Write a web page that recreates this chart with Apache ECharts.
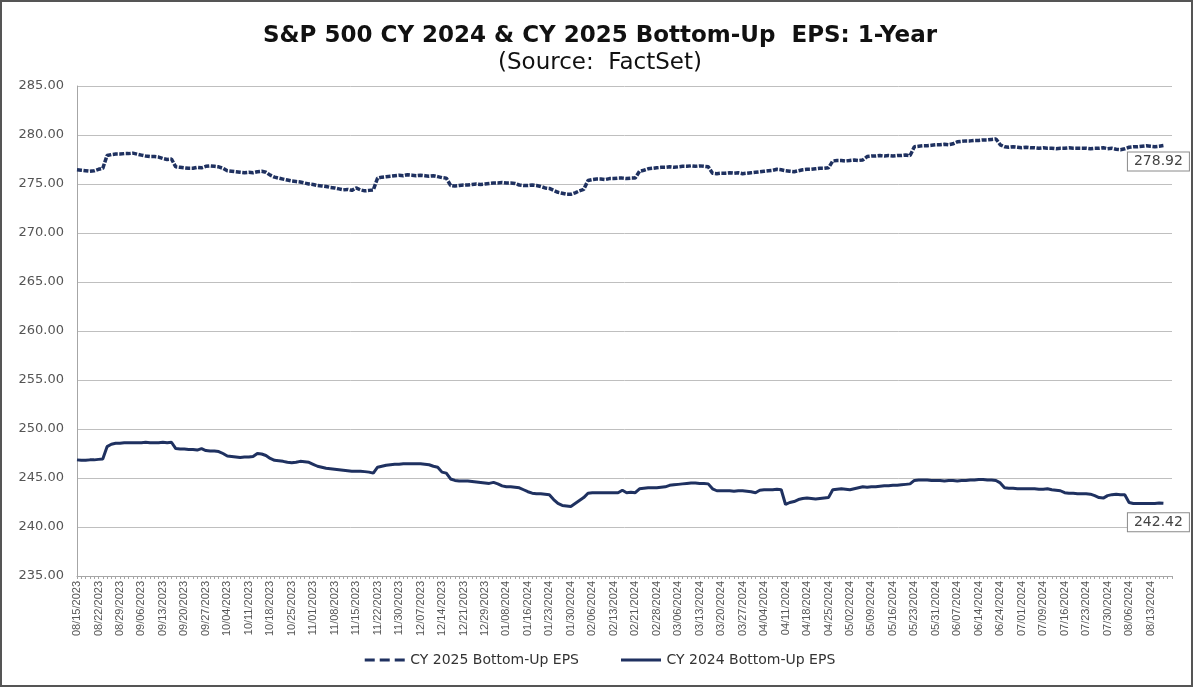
<!DOCTYPE html>
<html><head><meta charset="utf-8">
<script src="https://cdn.jsdelivr.net/npm/echarts@6/dist/echarts.min.js"></script>
<style>html,body{margin:0;padding:0;background:#fff}#c{width:1200px;height:688px}</style>
</head><body><div id="c"></div>
<script>
// Trading-day categories: start date, count and market holidays skipped
const startDate = [2023, 8, 15];
const categoryCount = 256;
const holidays = ['09/04/2023','11/23/2023','12/25/2023','01/01/2024','01/15/2024','02/19/2024','03/29/2024','05/27/2024','06/19/2024','07/04/2024'];
const labelEvery = 5;

const titleText = 'S&P 500 CY 2024 & CY 2025 Bottom-Up  EPS: 1-Year';
const subtitleText = '(Source:  FactSet)';
const seriesNames = ['CY 2025 Bottom-Up EPS', 'CY 2024 Bottom-Up EPS'];
const yMin = 235, yMax = 285, yStep = 5;

// CY 2025 bottom-up EPS, one value per trading day (one row per week)
const cy2025 = [
 276.45,276.4,276.35,276.3,276.35,
 276.5,276.6,277.9,278.0,278.05,
 278.05,278.1,278.1,278.15,278.05,
 277.95,277.85,277.8,277.8,277.75,
 277.6,277.5,277.55,276.75,276.7,
 276.65,276.6,276.6,276.7,276.65,
 276.8,276.85,276.8,276.75,276.6,
 276.35,276.3,276.25,276.2,276.15,
 276.2,276.15,276.25,276.3,276.2,
 275.9,275.7,275.6,275.5,275.4,
 275.3,275.25,275.2,275.1,275.0,
 274.95,274.85,274.8,274.75,274.65,
 274.6,274.5,274.4,274.45,274.35,
 274.6,274.4,274.3,274.35,274.4,
 275.6,275.7,275.75,275.8,275.85,
 275.9,275.85,275.95,275.9,275.85,
 275.9,275.85,275.8,275.85,275.75,
 275.65,275.6,274.85,274.8,274.85,
 274.9,274.9,274.95,275.0,274.95,
 275.0,275.05,275.1,275.1,275.15,
 275.1,275.1,275.05,274.9,274.85,
 274.85,274.9,274.85,274.75,274.6,
 274.55,274.35,274.15,274.05,273.95,
 273.95,274.1,274.3,274.45,275.35,
 275.45,275.5,275.5,275.45,275.55,
 275.55,275.6,275.6,275.55,275.6,
 275.6,276.3,276.4,276.55,276.6,
 276.65,276.7,276.7,276.75,276.7,
 276.75,276.8,276.8,276.85,276.8,
 276.85,276.8,276.75,276.1,276.05,
 276.1,276.1,276.15,276.1,276.15,
 276.05,276.1,276.15,276.2,276.25,
 276.3,276.35,276.4,276.5,276.45,
 276.35,276.3,276.25,276.35,276.45,
 276.5,276.5,276.55,276.6,276.6,
 276.65,277.35,277.4,277.4,277.35,
 277.4,277.45,277.4,277.45,277.8,
 277.85,277.85,277.9,277.85,277.9,
 277.85,277.9,277.9,277.95,277.9,
 278.8,278.85,278.9,278.9,278.95,
 279.0,279.0,279.05,279.0,279.1,
 279.3,279.35,279.4,279.4,279.45,
 279.45,279.5,279.5,279.55,279.6,
 279.0,278.8,278.75,278.8,278.75,
 278.7,278.75,278.7,278.7,278.65,
 278.7,278.65,278.65,278.6,278.65,
 278.65,278.7,278.65,278.65,278.65,
 278.65,278.6,278.65,278.65,278.7,
 278.6,278.65,278.55,278.5,278.6,
 278.75,278.8,278.8,278.85,278.9,
 278.85,278.8,278.85,278.92
];

// CY 2024 bottom-up EPS, one value per trading day (one row per week)
const cy2024 = [
 246.85,246.8,246.8,246.85,246.85,
 246.9,246.95,248.2,248.45,248.55,
 248.55,248.6,248.6,248.6,248.6,
 248.6,248.65,248.6,248.6,248.6,
 248.65,248.6,248.65,248.0,247.95,
 247.95,247.9,247.9,247.85,248.0,
 247.8,247.75,247.75,247.7,247.5,
 247.25,247.2,247.15,247.1,247.15,
 247.15,247.2,247.5,247.45,247.3,
 247.0,246.8,246.75,246.7,246.6,
 246.55,246.6,246.7,246.65,246.6,
 246.4,246.2,246.1,246.0,245.95,
 245.9,245.85,245.8,245.75,245.7,
 245.7,245.7,245.65,245.6,245.5,
 246.1,246.2,246.3,246.35,246.4,
 246.4,246.45,246.45,246.45,246.45,
 246.45,246.4,246.35,246.2,246.1,
 245.6,245.5,244.9,244.75,244.7,
 244.7,244.7,244.65,244.6,244.55,
 244.5,244.45,244.55,244.4,244.2,
 244.1,244.1,244.05,244.0,243.8,
 243.6,243.45,243.4,243.4,243.35,
 243.3,242.8,242.4,242.2,242.15,
 242.1,242.4,242.7,243.0,243.45,
 243.5,243.5,243.5,243.5,243.5,
 243.5,243.5,243.75,243.5,243.55,
 243.5,243.9,243.95,244.0,244.0,
 244.0,244.05,244.1,244.25,244.3,
 244.35,244.4,244.45,244.5,244.5,
 244.45,244.45,244.4,243.9,243.7,
 243.7,243.7,243.7,243.65,243.7,
 243.7,243.65,243.6,243.5,243.75,
 243.8,243.8,243.8,243.85,243.8,
 242.3,242.5,242.6,242.8,242.9,
 242.95,242.9,242.85,242.9,242.95,
 243.0,243.8,243.85,243.9,243.85,
 243.8,243.9,244.0,244.1,244.05,
 244.1,244.1,244.15,244.2,244.2,
 244.25,244.25,244.3,244.35,244.4,
 244.75,244.8,244.8,244.8,244.75,
 244.75,244.75,244.7,244.75,244.75,
 244.7,244.75,244.75,244.8,244.8,
 244.85,244.85,244.8,244.8,244.75,
 244.5,244.0,243.95,243.95,243.9,
 243.9,243.9,243.9,243.9,243.85,
 243.85,243.9,243.8,243.75,243.7,
 243.5,243.45,243.45,243.4,243.4,
 243.4,243.35,243.2,243.0,242.95,
 243.2,243.3,243.35,243.3,243.3,
 242.5,242.4,242.4,242.4,242.4,
 242.4,242.4,242.45,242.42
];

function pad(n){return (n<10?'0':'')+n;}
function buildCategories(){
  const out=[]; const d=new Date(startDate[0], startDate[1]-1, startDate[2]);
  while(out.length<categoryCount){
    const wd=d.getDay();
    const s=pad(d.getMonth()+1)+'/'+pad(d.getDate())+'/'+d.getFullYear();
    if(wd!==0 && wd!==6 && holidays.indexOf(s)<0) out.push(s);
    d.setDate(d.getDate()+1);
  }
  return out;
}
const categories = buildCategories();
const lastDataIndex = Math.max(cy2025.length, cy2024.length) - 1;

const lineColor = '#1f3160';
const wideFont = 'DejaVu Sans, Verdana, sans-serif';
function endLabel(dy){
  return {
    show:true, align:'center', verticalAlign:'top', distance:0, offset:[-5, dy],
    color:'#444', fontSize:14, fontFamily:wideFont, lineHeight:16,
    backgroundColor:'#fff', borderColor:'#8a8a8a', borderWidth:1, padding:[1,6,1,6],
    formatter:(p)=>Number(p.value).toFixed(2)
  };
}

const chart = echarts.init(document.getElementById('c'), null, {renderer:'canvas'});
chart.setOption({
  animation:false,
  backgroundColor:'#fff',
  textStyle:{fontFamily:'Liberation Sans, Arial, sans-serif'},
  title:[
    {text:titleText, left:'center', top:20, textStyle:{fontSize:23, fontWeight:'bold', color:'#111', fontFamily:wideFont}},
    {text:subtitleText, left:'center', top:47, textStyle:{fontSize:23, fontWeight:'normal', color:'#111', fontFamily:wideFont}}
  ],
  graphic:[
    {type:'rect', shape:{x:1,y:1,width:1191,height:685}, style:{fill:null, stroke:'#555', lineWidth:2}, silent:true}
  ],
  legend:{
    bottom:16, left:'center', itemWidth:41, itemHeight:3, itemGap:42,
    textStyle:{fontSize:14, color:'#333', fontFamily:wideFont},
    data:[
      {name:seriesNames[0], icon:'path://M0,0h10v3h-10z M15,0h10v3h-10z M30,0h10v3h-10z'},
      {name:seriesNames[1], icon:'path://M0,0h40v3h-40z'}
    ]
  },
  grid:{left:77, right:28, top:86, bottom:112, containLabel:false},
  xAxis:{
    type:'category', data:categories, boundaryGap:false,
    axisLine:{lineStyle:{color:'#a6a6a6', width:1}},
    axisTick:{show:true, interval:0, length:3, lineStyle:{color:'#a6a6a6'}},
    axisLabel:{interval:(i)=> i%labelEvery===0 && i<=lastDataIndex, rotate:90, fontSize:11, color:'#555', margin:5},
    splitLine:{show:false}
  },
  yAxis:{
    type:'value', min:yMin, max:yMax, interval:yStep,
    axisLine:{show:true, lineStyle:{color:'#a6a6a6'}},
    axisTick:{show:false},
    axisLabel:{formatter:(v)=>v.toFixed(2), fontSize:13, color:'#555', margin:13, fontFamily:wideFont},
    splitLine:{lineStyle:{color:'#bfbfbf', width:1}}
  },
  series:[
    {name:seriesNames[0], type:'line', data:cy2025, showSymbol:false, symbol:'none',
     lineStyle:{color:lineColor, width:3.5, type:[5,1.5]}, itemStyle:{color:lineColor},
     endLabel:endLabel(7)},
    {name:seriesNames[1], type:'line', data:cy2024, showSymbol:false, symbol:'none',
     lineStyle:{color:lineColor, width:3}, itemStyle:{color:lineColor},
     endLabel:endLabel(10)}
  ]
});
</script>
</body></html>
